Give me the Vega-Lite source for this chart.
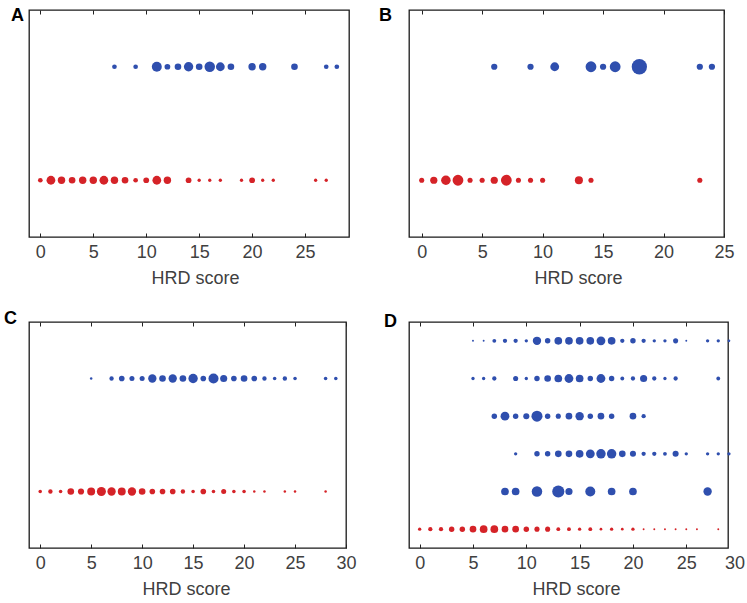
{
  "$schema": "https://vega.github.io/schema/vega-lite/v6.json",
  "background": "white",
  "padding": {"left": 3, "top": 5, "right": 0, "bottom": 0},
  "columns": 2,
  "spacing": {"row": 85, "column": 60},
  "bounds": "flush",
  "resolve": {"scale": {"size": "independent"}},
  "config": {
    "font": "Liberation Sans",
    "view": {"stroke": "#1a1a1a", "strokeWidth": 1.3},
    "axis": {
      "domain": false,
      "grid": false,
      "tickSize": -4,
      "tickColor": "#222222",
      "tickWidth": 1,
      "labelPadding": 10,
      "labelFontSize": 18,
      "labelColor": "#404040",
      "labelFont": "Liberation Sans",
      "labelFlush": false,
      "labelOverlap": false,
      "labelBound": false,
      "titleFontSize": 18,
      "titleFontWeight": "normal",
      "titleColor": "#404040",
      "titleFont": "Liberation Sans",
      "titlePadding": 8
    }
  },
  "datasets": {
    "A": [
      {"hrd": 7, "row": 2, "n": 2}, {"hrd": 9, "row": 2, "n": 2}, {"hrd": 11, "row": 2, "n": 9}, {"hrd": 12, "row": 2, "n": 3},
      {"hrd": 13, "row": 2, "n": 4}, {"hrd": 14, "row": 2, "n": 8}, {"hrd": 15, "row": 2, "n": 4}, {"hrd": 16, "row": 2, "n": 10},
      {"hrd": 17, "row": 2, "n": 7}, {"hrd": 18, "row": 2, "n": 4}, {"hrd": 20, "row": 2, "n": 5}, {"hrd": 21, "row": 2, "n": 5},
      {"hrd": 24, "row": 2, "n": 4}, {"hrd": 27, "row": 2, "n": 2}, {"hrd": 28, "row": 2, "n": 2},
      {"hrd": 0, "row": 1, "n": 2}, {"hrd": 1, "row": 1, "n": 7}, {"hrd": 2, "row": 1, "n": 5}, {"hrd": 3, "row": 1, "n": 4},
      {"hrd": 4, "row": 1, "n": 5}, {"hrd": 5, "row": 1, "n": 5}, {"hrd": 6, "row": 1, "n": 7}, {"hrd": 7, "row": 1, "n": 5},
      {"hrd": 8, "row": 1, "n": 4}, {"hrd": 9, "row": 1, "n": 2}, {"hrd": 10, "row": 1, "n": 3}, {"hrd": 11, "row": 1, "n": 7},
      {"hrd": 12, "row": 1, "n": 5}, {"hrd": 14, "row": 1, "n": 3}, {"hrd": 15, "row": 1, "n": 1}, {"hrd": 16, "row": 1, "n": 1},
      {"hrd": 17, "row": 1, "n": 1}, {"hrd": 19, "row": 1, "n": 1}, {"hrd": 20, "row": 1, "n": 3}, {"hrd": 21, "row": 1, "n": 1},
      {"hrd": 22, "row": 1, "n": 1}, {"hrd": 26, "row": 1, "n": 1}, {"hrd": 27, "row": 1, "n": 1}
    ],
    "B": [
      {"hrd": 6, "row": 2, "n": 3}, {"hrd": 9, "row": 2, "n": 3}, {"hrd": 11, "row": 2, "n": 6}, {"hrd": 14, "row": 2, "n": 9},
      {"hrd": 15, "row": 2, "n": 3}, {"hrd": 16, "row": 2, "n": 9}, {"hrd": 18, "row": 2, "n": 18}, {"hrd": 23, "row": 2, "n": 3},
      {"hrd": 24, "row": 2, "n": 3},
      {"hrd": 0, "row": 1, "n": 2}, {"hrd": 1, "row": 1, "n": 4}, {"hrd": 2, "row": 1, "n": 7}, {"hrd": 3, "row": 1, "n": 9},
      {"hrd": 4, "row": 1, "n": 2}, {"hrd": 5, "row": 1, "n": 2}, {"hrd": 6, "row": 1, "n": 4}, {"hrd": 7, "row": 1, "n": 9},
      {"hrd": 8, "row": 1, "n": 2}, {"hrd": 9, "row": 1, "n": 2}, {"hrd": 10, "row": 1, "n": 2}, {"hrd": 13, "row": 1, "n": 5},
      {"hrd": 14, "row": 1, "n": 2}, {"hrd": 23, "row": 1, "n": 2}
    ],
    "C": [
      {"hrd": 5, "row": 2, "n": 1}, {"hrd": 7, "row": 2, "n": 3}, {"hrd": 8, "row": 2, "n": 5}, {"hrd": 9, "row": 2, "n": 4},
      {"hrd": 10, "row": 2, "n": 4}, {"hrd": 11, "row": 2, "n": 11}, {"hrd": 12, "row": 2, "n": 7}, {"hrd": 13, "row": 2, "n": 11},
      {"hrd": 14, "row": 2, "n": 7}, {"hrd": 15, "row": 2, "n": 14}, {"hrd": 16, "row": 2, "n": 5}, {"hrd": 17, "row": 2, "n": 16},
      {"hrd": 18, "row": 2, "n": 8}, {"hrd": 19, "row": 2, "n": 5}, {"hrd": 20, "row": 2, "n": 7}, {"hrd": 21, "row": 2, "n": 5},
      {"hrd": 22, "row": 2, "n": 3}, {"hrd": 23, "row": 2, "n": 2}, {"hrd": 24, "row": 2, "n": 3}, {"hrd": 25, "row": 2, "n": 2},
      {"hrd": 28, "row": 2, "n": 2}, {"hrd": 29, "row": 2, "n": 2},
      {"hrd": 0, "row": 1, "n": 2}, {"hrd": 1, "row": 1, "n": 3}, {"hrd": 2, "row": 1, "n": 2}, {"hrd": 3, "row": 1, "n": 7},
      {"hrd": 4, "row": 1, "n": 6}, {"hrd": 5, "row": 1, "n": 10}, {"hrd": 6, "row": 1, "n": 13}, {"hrd": 7, "row": 1, "n": 11},
      {"hrd": 8, "row": 1, "n": 10}, {"hrd": 9, "row": 1, "n": 11}, {"hrd": 10, "row": 1, "n": 7}, {"hrd": 11, "row": 1, "n": 5},
      {"hrd": 12, "row": 1, "n": 5}, {"hrd": 13, "row": 1, "n": 5}, {"hrd": 14, "row": 1, "n": 3}, {"hrd": 15, "row": 1, "n": 2},
      {"hrd": 16, "row": 1, "n": 5}, {"hrd": 17, "row": 1, "n": 2}, {"hrd": 18, "row": 1, "n": 4}, {"hrd": 19, "row": 1, "n": 2},
      {"hrd": 20, "row": 1, "n": 2}, {"hrd": 21, "row": 1, "n": 1}, {"hrd": 22, "row": 1, "n": 1}, {"hrd": 24, "row": 1, "n": 1},
      {"hrd": 25, "row": 1, "n": 1}, {"hrd": 28, "row": 1, "n": 1}
    ],
    "D": [
      {"hrd": 5, "row": 6, "n": 1}, {"hrd": 6, "row": 6, "n": 1}, {"hrd": 7, "row": 6, "n": 4}, {"hrd": 8, "row": 6, "n": 5},
      {"hrd": 9, "row": 6, "n": 5}, {"hrd": 10, "row": 6, "n": 3}, {"hrd": 11, "row": 6, "n": 19}, {"hrd": 12, "row": 6, "n": 8},
      {"hrd": 13, "row": 6, "n": 16}, {"hrd": 14, "row": 6, "n": 16}, {"hrd": 15, "row": 6, "n": 16}, {"hrd": 16, "row": 6, "n": 16},
      {"hrd": 17, "row": 6, "n": 21}, {"hrd": 18, "row": 6, "n": 16}, {"hrd": 19, "row": 6, "n": 5}, {"hrd": 20, "row": 6, "n": 8},
      {"hrd": 21, "row": 6, "n": 5}, {"hrd": 22, "row": 6, "n": 3}, {"hrd": 23, "row": 6, "n": 3}, {"hrd": 24, "row": 6, "n": 7},
      {"hrd": 25, "row": 6, "n": 1}, {"hrd": 27, "row": 6, "n": 3}, {"hrd": 28, "row": 6, "n": 3}, {"hrd": 29, "row": 6, "n": 2},
      {"hrd": 5, "row": 5, "n": 3}, {"hrd": 6, "row": 5, "n": 3}, {"hrd": 7, "row": 5, "n": 5}, {"hrd": 9, "row": 5, "n": 7},
      {"hrd": 10, "row": 5, "n": 3}, {"hrd": 11, "row": 5, "n": 8}, {"hrd": 12, "row": 5, "n": 12}, {"hrd": 13, "row": 5, "n": 16},
      {"hrd": 14, "row": 5, "n": 21}, {"hrd": 15, "row": 5, "n": 16}, {"hrd": 16, "row": 5, "n": 8}, {"hrd": 17, "row": 5, "n": 21},
      {"hrd": 18, "row": 5, "n": 8}, {"hrd": 19, "row": 5, "n": 4}, {"hrd": 20, "row": 5, "n": 5}, {"hrd": 21, "row": 5, "n": 14},
      {"hrd": 22, "row": 5, "n": 5}, {"hrd": 23, "row": 5, "n": 3}, {"hrd": 24, "row": 5, "n": 5}, {"hrd": 28, "row": 5, "n": 4},
      {"hrd": 7, "row": 4, "n": 8}, {"hrd": 8, "row": 4, "n": 21}, {"hrd": 9, "row": 4, "n": 8}, {"hrd": 10, "row": 4, "n": 10},
      {"hrd": 11, "row": 4, "n": 33}, {"hrd": 12, "row": 4, "n": 8}, {"hrd": 13, "row": 4, "n": 7}, {"hrd": 14, "row": 4, "n": 12},
      {"hrd": 15, "row": 4, "n": 19}, {"hrd": 16, "row": 4, "n": 8}, {"hrd": 17, "row": 4, "n": 12}, {"hrd": 18, "row": 4, "n": 8},
      {"hrd": 20, "row": 4, "n": 12}, {"hrd": 21, "row": 4, "n": 5},
      {"hrd": 9, "row": 3, "n": 3}, {"hrd": 11, "row": 3, "n": 8}, {"hrd": 12, "row": 3, "n": 8}, {"hrd": 13, "row": 3, "n": 12},
      {"hrd": 14, "row": 3, "n": 12}, {"hrd": 15, "row": 3, "n": 16}, {"hrd": 16, "row": 3, "n": 21}, {"hrd": 17, "row": 3, "n": 24},
      {"hrd": 18, "row": 3, "n": 24}, {"hrd": 19, "row": 3, "n": 12}, {"hrd": 20, "row": 3, "n": 10}, {"hrd": 21, "row": 3, "n": 5},
      {"hrd": 22, "row": 3, "n": 5}, {"hrd": 23, "row": 3, "n": 4}, {"hrd": 24, "row": 3, "n": 10}, {"hrd": 25, "row": 3, "n": 3},
      {"hrd": 27, "row": 3, "n": 3}, {"hrd": 28, "row": 3, "n": 3}, {"hrd": 29, "row": 3, "n": 3},
      {"hrd": 8, "row": 2, "n": 16}, {"hrd": 9, "row": 2, "n": 16}, {"hrd": 11, "row": 2, "n": 30}, {"hrd": 13, "row": 2, "n": 40},
      {"hrd": 14, "row": 2, "n": 14}, {"hrd": 16, "row": 2, "n": 27}, {"hrd": 18, "row": 2, "n": 16}, {"hrd": 20, "row": 2, "n": 16},
      {"hrd": 27, "row": 2, "n": 19},
      {"hrd": 0, "row": 1, "n": 3}, {"hrd": 1, "row": 1, "n": 5}, {"hrd": 2, "row": 1, "n": 5}, {"hrd": 3, "row": 1, "n": 8},
      {"hrd": 4, "row": 1, "n": 8}, {"hrd": 5, "row": 1, "n": 12}, {"hrd": 6, "row": 1, "n": 16}, {"hrd": 7, "row": 1, "n": 16},
      {"hrd": 8, "row": 1, "n": 12}, {"hrd": 9, "row": 1, "n": 12}, {"hrd": 10, "row": 1, "n": 8}, {"hrd": 11, "row": 1, "n": 7},
      {"hrd": 12, "row": 1, "n": 7}, {"hrd": 13, "row": 1, "n": 4}, {"hrd": 14, "row": 1, "n": 4}, {"hrd": 15, "row": 1, "n": 3},
      {"hrd": 16, "row": 1, "n": 4}, {"hrd": 17, "row": 1, "n": 2}, {"hrd": 18, "row": 1, "n": 3}, {"hrd": 19, "row": 1, "n": 2},
      {"hrd": 20, "row": 1, "n": 3}, {"hrd": 21, "row": 1, "n": 1}, {"hrd": 22, "row": 1, "n": 1}, {"hrd": 23, "row": 1, "n": 1},
      {"hrd": 24, "row": 1, "n": 1}, {"hrd": 25, "row": 1, "n": 1}, {"hrd": 26, "row": 1, "n": 1}, {"hrd": 28, "row": 1, "n": 1}
    ]
  },
  "concat": [
    {
      "width": 320, "height": 227,
      "data": {"name": "A"},
      "title": {"text": "A", "anchor": "start", "frame": "group", "baseline": "alphabetic", "fontSize": 18, "fontWeight": "bold", "color": "#000000", "font": "Liberation Sans", "dx": -18, "offset": -29},
      "layer": [
        {
          "mark": {"type": "circle", "opacity": 1},
          "encoding": {
            "x": {"field": "hrd", "type": "quantitative", "scale": {"domain": [-1.07, 29.15], "nice": false, "zero": false},
                  "axis": {"orient": "bottom", "title": "HRD score", "titleX": 166, "values": [0, 5, 10, 15, 20, 25]}},
            "y": {"field": "row", "type": "quantitative", "scale": {"domain": [0.5, 2.5], "nice": false, "zero": false}, "axis": null},
            "size": {"field": "n", "type": "quantitative", "scale": {"type": "linear", "domain": [0, 1], "range": [0, 11]}, "legend": null},
            "color": {"condition": {"test": "datum.row > 1", "value": "#2f4fae"}, "value": "#d52328"}
          }
        },
        {
          "mark": {"type": "circle", "opacity": 0},
          "encoding": {
            "x": {"field": "hrd", "type": "quantitative", "scale": {"domain": [-1.07, 29.15], "nice": false, "zero": false},
                  "axis": {"orient": "top", "title": null, "labels": false, "values": [0, 5, 10, 15, 20, 25]}},
            "y": {"field": "row", "type": "quantitative", "scale": {"domain": [0.5, 2.5], "nice": false, "zero": false}, "axis": null}
          }
        }
      ]
    },
    {
      "width": 315, "height": 227,
      "data": {"name": "B"},
      "title": {"text": "B", "anchor": "start", "frame": "group", "baseline": "alphabetic", "fontSize": 18, "fontWeight": "bold", "color": "#000000", "font": "Liberation Sans", "dx": -30, "offset": -29},
      "layer": [
        {
          "mark": {"type": "circle", "opacity": 1},
          "encoding": {
            "x": {"field": "hrd", "type": "quantitative", "scale": {"domain": [-1.05, 25], "nice": false, "zero": false},
                  "axis": {"orient": "bottom", "title": "HRD score", "titleX": 169, "values": [0, 5, 10, 15, 20, 25]}},
            "y": {"field": "row", "type": "quantitative", "scale": {"domain": [0.5, 2.5], "nice": false, "zero": false}, "axis": null},
            "size": {"field": "n", "type": "quantitative", "scale": {"type": "linear", "domain": [0, 1], "range": [0, 13]}, "legend": null},
            "color": {"condition": {"test": "datum.row > 1", "value": "#2f4fae"}, "value": "#d52328"}
          }
        },
        {
          "mark": {"type": "circle", "opacity": 0},
          "encoding": {
            "x": {"field": "hrd", "type": "quantitative", "scale": {"domain": [-1.05, 25], "nice": false, "zero": false},
                  "axis": {"orient": "top", "title": null, "labels": false, "values": [0, 5, 10, 15, 20, 25]}},
            "y": {"field": "row", "type": "quantitative", "scale": {"domain": [0.5, 2.5], "nice": false, "zero": false}, "axis": null}
          }
        }
      ]
    },
    {
      "width": 317, "height": 226,
      "data": {"name": "C"},
      "title": {"text": "C", "anchor": "start", "frame": "group", "baseline": "alphabetic", "fontSize": 18, "fontWeight": "bold", "color": "#000000", "font": "Liberation Sans", "dx": -25, "offset": -20},
      "layer": [
        {
          "mark": {"type": "circle", "opacity": 1},
          "encoding": {
            "x": {"field": "hrd", "type": "quantitative", "scale": {"domain": [-1.1, 30], "nice": false, "zero": false},
                  "axis": {"orient": "bottom", "title": "HRD score", "titleX": 157, "values": [0, 5, 10, 15, 20, 25, 30]}},
            "y": {"field": "row", "type": "quantitative", "scale": {"domain": [0.5, 2.5], "nice": false, "zero": false}, "axis": null},
            "size": {"field": "n", "type": "quantitative", "scale": {"type": "linear", "domain": [0, 1], "range": [0, 6.3]}, "legend": null},
            "color": {"condition": {"test": "datum.row > 1", "value": "#2f4fae"}, "value": "#d52328"}
          }
        },
        {
          "mark": {"type": "circle", "opacity": 0},
          "encoding": {
            "x": {"field": "hrd", "type": "quantitative", "scale": {"domain": [-1.1, 30], "nice": false, "zero": false},
                  "axis": {"orient": "top", "title": null, "labels": false, "values": [0, 5, 10, 15, 20, 25, 30]}},
            "y": {"field": "row", "type": "quantitative", "scale": {"domain": [0.5, 2.5], "nice": false, "zero": false}, "axis": null}
          }
        }
      ]
    },
    {
      "width": 319, "height": 226,
      "data": {"name": "D"},
      "title": {"text": "D", "anchor": "start", "frame": "group", "baseline": "alphabetic", "fontSize": 18, "fontWeight": "bold", "color": "#000000", "font": "Liberation Sans", "dx": -25, "offset": -23},
      "layer": [
        {
          "mark": {"type": "circle", "opacity": 1},
          "encoding": {
            "x": {"field": "hrd", "type": "quantitative", "scale": {"domain": [-1, 30], "range": [0, 330.6], "nice": false, "zero": false},
                  "axis": {"orient": "bottom", "title": "HRD score", "values": [0, 5, 10, 15, 20, 25, 30],
                           "tickOpacity": {"condition": {"test": "datum.value > 29.5", "value": 0}, "value": 1},
                           "labelOffset": {"condition": {"test": "datum.value > 29.5", "value": -5}, "value": 0},
                           "titleX": 167}},
            "y": {"field": "row", "type": "quantitative", "scale": {"domain": [0.5, 6.5], "nice": false, "zero": false}, "axis": null},
            "size": {"field": "n", "type": "quantitative", "scale": {"type": "linear", "domain": [0, 1], "range": [0, 3.7]}, "legend": null},
            "color": {"condition": {"test": "datum.row > 1", "value": "#2f4fae"}, "value": "#d52328"}
          }
        },
        {
          "mark": {"type": "circle", "opacity": 0},
          "encoding": {
            "x": {"field": "hrd", "type": "quantitative", "scale": {"domain": [-1, 30], "range": [0, 330.6], "nice": false, "zero": false},
                  "axis": {"orient": "top", "title": null, "labels": false, "values": [0, 5, 10, 15, 20, 25, 30],
                           "tickOpacity": {"condition": {"test": "datum.value > 29.5", "value": 0}, "value": 1}}},
            "y": {"field": "row", "type": "quantitative", "scale": {"domain": [0.5, 6.5], "nice": false, "zero": false}, "axis": null}
          }
        }
      ]
    }
  ]
}
